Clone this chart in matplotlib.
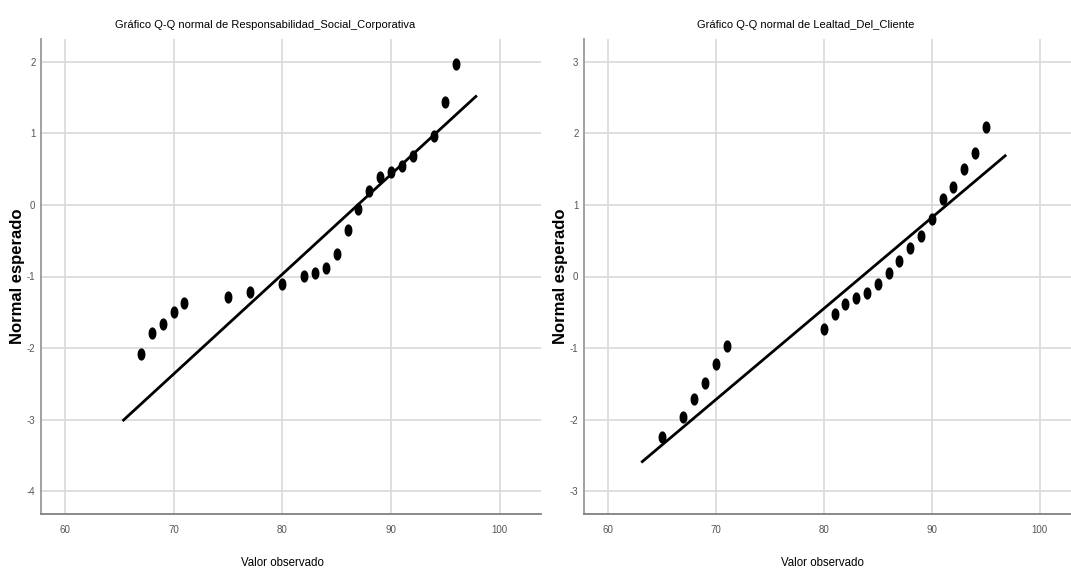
import matplotlib
matplotlib.use("Agg")
import matplotlib.pyplot as plt
import numpy as np
from matplotlib.path import Path

# Responsabilidad_Social_Corporativa
rsc_obs = [67, 68, 69, 70, 71, 75, 77, 80, 82, 83, 84, 85, 86, 87, 88, 89, 90, 91, 92, 94, 95, 96]
rsc_exp = [-2.09, -1.79, -1.66, -1.50, -1.37, -1.29, -1.22, -1.10, -0.99, -0.95, -0.88, -0.69,
           -0.35, -0.06, 0.19, 0.39, 0.46, 0.55, 0.68, 0.96, 1.44, 1.97]
rsc_line_x = [65.3, 97.9]
rsc_line_y = [-3.02, 1.53]

# Lealtad_Del_Cliente
ldc_obs = [65, 67, 68, 69, 70, 71, 80, 81, 82, 83, 84, 85, 86, 87, 88, 89, 90, 91, 92, 93, 94, 95]
ldc_exp = [-2.24, -1.96, -1.71, -1.49, -1.22, -0.97, -0.73, -0.53, -0.39, -0.30, -0.23, -0.11,
           0.05, 0.21, 0.40, 0.57, 0.81, 1.08, 1.25, 1.50, 1.72, 2.09]
ldc_line_x = [63.1, 96.9]
ldc_line_y = [-2.60, 1.70]

x_ticks = [60, 70, 80, 90, 100]
rsc_y_ticks = [-4, -3, -2, -1, 0, 1, 2]
ldc_y_ticks = [-3, -2, -1, 0, 1, 2, 3]

plt.rcParams["axes.unicode_minus"] = False
FONT = ["Liberation Sans", "DejaVu Sans"]

# tall ellipse marker (the original picture is squeezed horizontally)
t = np.linspace(0, 2 * np.pi, 40)
ellipse = Path(np.column_stack([0.6 * np.cos(t), np.sin(t)]), closed=True)


def qq_panel(ax, obs, exp, line_x, line_y, yticks, ylim, title, title_x, xlab_x):
    ax.grid(True, color="#d9d9d9", linewidth=1.2)
    ax.set_axisbelow(True)
    ax.plot(line_x, line_y, color="black", linewidth=2.0, solid_capstyle="butt")
    ax.plot(obs, exp, linestyle="none", marker=ellipse, markersize=7.8, color="black")

    ax.set_xlim(57.8, 103.8)
    ax.set_ylim(*ylim)
    ax.set_xticks(x_ticks)
    ax.set_yticks(yticks)
    ax.tick_params(length=0, labelsize=7, labelcolor="#555555", pad=8)
    ax.tick_params(axis="y", pad=4)
    for lab in ax.get_xticklabels() + ax.get_yticklabels():
        lab.set_family(FONT)

    for side in ["top", "right"]:
        ax.spines[side].set_visible(False)
    ax.spines["left"].set_color("#9a9a9a")
    ax.spines["bottom"].set_color("#808080")
    ax.spines["left"].set_linewidth(1.3)
    ax.spines["bottom"].set_linewidth(1.3)

    ax.set_title(title, family=FONT, fontsize=8, x=title_x, pad=8)
    ax.set_xlabel("Valor observado", family=FONT, fontsize=8.3, va="center")
    ax.xaxis.set_label_coords(xlab_x, -0.103)
    ax.set_ylabel("Normal esperado", family=FONT, fontsize=12, fontweight="bold", va="center")
    ax.yaxis.set_label_coords(-0.046, 0.5)


fig = plt.figure(figsize=(10.71, 5.72), dpi=100)
ax1 = fig.add_axes([41 / 1071, 58 / 572, 500 / 1071, 475 / 572])
ax2 = fig.add_axes([584 / 1071, 58 / 572, 487 / 1071, 475 / 572])

qq_panel(ax1, rsc_obs, rsc_exp, rsc_line_x, rsc_line_y, rsc_y_ticks, (-4.32, 2.32),
         "Gráfico Q-Q normal de Responsabilidad_Social_Corporativa", 0.448, 0.482)
qq_panel(ax2, ldc_obs, ldc_exp, ldc_line_x, ldc_line_y, ldc_y_ticks, (-3.32, 3.32),
         "Gráfico Q-Q normal de Lealtad_Del_Cliente", 0.456, 0.489)
ax2.set_xlim(57.8, 102.9)
ax2.yaxis.set_label_coords(-0.049, 0.5)

fig.savefig("out.png", dpi=100)
